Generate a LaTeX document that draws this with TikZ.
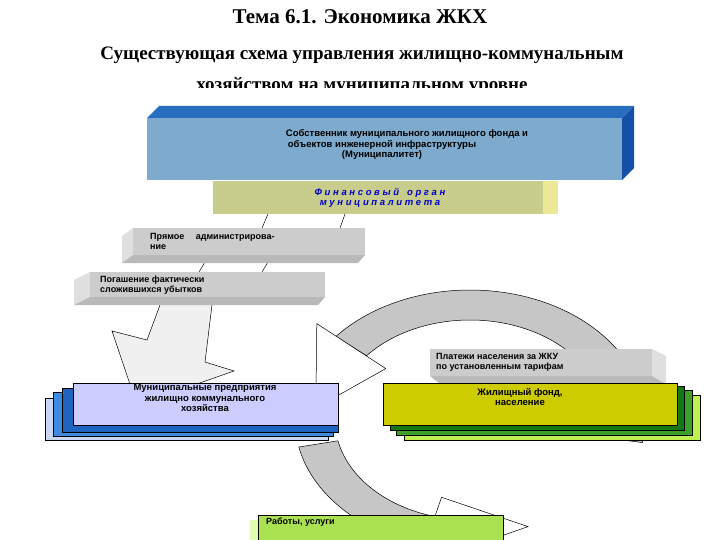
\documentclass[tikz,border=0pt]{standalone}
\usepackage{fontspec}
\setmainfont{Liberation Serif}
\newfontfamily\arial{Liberation Sans}
\definecolor{cOwn}{RGB}{125,170,205}
\definecolor{cOwnTop}{RGB}{40,110,190}
\definecolor{cOwnSide}{RGB}{20,80,170}
\definecolor{cFin}{RGB}{200,205,140}
\definecolor{cFinSide}{RGB}{235,232,150}
\definecolor{cB1}{RGB}{200,215,245}
\definecolor{cB2}{RGB}{60,140,225}
\definecolor{cB3}{RGB}{30,100,190}
\definecolor{cEnt}{RGB}{204,204,255}
\definecolor{cG1}{RGB}{190,240,80}
\definecolor{cG2}{RGB}{60,160,40}
\definecolor{cG3}{RGB}{20,120,20}
\definecolor{cHouse}{RGB}{204,204,0}
\definecolor{cWorkS}{RGB}{225,250,180}
\definecolor{cWork}{RGB}{170,225,80}
\begin{document}
\begin{tikzpicture}[x=1pt,y=-1pt,
  lbl/.style={font=\arial\bfseries\fontsize{9}{10}\selectfont,align=center,inner sep=0pt},
  edge/.style={draw=black,line width=0.5pt}]
\useasboundingbox (0,0) rectangle (720,540);
\fill[white] (0,0) rectangle (720,540);
% titles
\node (t1) at (360,17) {\bfseries\fontsize{21}{24}\selectfont Тема 6.1. Экономика ЖКХ};
\node (t2) at (362,55) {\bfseries\fontsize{19}{22}\selectfont Существующая схема управления жилищно-коммунальным};
\begin{scope}
\clip (0,70) rectangle (720,88);
\node (t3) at (362,86) {\bfseries\fontsize{19}{22}\selectfont хозяйством на муниципальном уровне};
\end{scope}
% ring arrows
\begin{scope}[shift={(470,420)}]
 \fill[gray!45,edge] (10:175 and 130) arc[start angle=10,end angle=-140,x radius=175,y radius=130]
   -- (-140:135 and 100) arc[start angle=-140,end angle=10,x radius=135,y radius=100] -- cycle;
 \fill[white,edge] (-140:200 and 150) -- (-174:155 and 115) -- (-140:110 and 80) -- cycle;
 \fill[gray!45,edge] (168:175 and 130) arc[start angle=168,end angle=105,x radius=175,y radius=130]
   -- (105:135 and 100) arc[start angle=105,end angle=168,x radius=135,y radius=100] -- cycle;
 \fill[white,edge] (105:200 and 150) -- (68:155 and 115) -- (105:110 and 80) -- cycle;
\end{scope}
% big down-left arrow
\fill[gray!12,edge] (160,305) -- (147,340) -- (112,331) -- (137,405) -- (234,371) -- (205,362) -- (212,305);
% top blue box
\fill[cOwnTop] (147,118) -- (159,106) -- (634,106) -- (622,118) -- cycle;
\fill[cOwnSide] (622,118) -- (634,106) -- (634,168) -- (622,180) -- cycle;
\node[fill=cOwn,minimum width=475,minimum height=62,anchor=north west,inner sep=0] (own) at (147,118) {};
\node[lbl,font=\arial\bfseries\fontsize{9.5}{10.5}\selectfont] at (382,145) {\hspace*{50pt}Собственник муниципального жилищного фонда и\\объектов инженерной инфраструктуры\hspace*{110pt}\\(Муниципалитет)};
% yellow box
\fill[cFinSide] (543,181) -- (558,181) -- (558,214) -- (543,214) -- cycle;
\node[fill=cFin,minimum width=330,minimum height=33,anchor=north west,inner sep=0] (fin) at (213,181) {};
\node[lbl,text=blue!80!black,font=\arial\bfseries\itshape\fontsize{9.5}{10.5}\selectfont] at (380,198) {Ф и н а н с о в ы й \ \ о р г а н\\м у н и ц и п а л и т е т а};
% connector bands
\draw[edge] (268,214) -- (262,228) (345,214) -- (340,228);
\draw[edge] (205,262) -- (199,272) (268,262) -- (262,272);
% gray box 1
\fill[gray!25] (122,236) -- (133,228) -- (133,255) -- (122,263) -- cycle;
\fill[gray!55] (122,263) -- (133,255) -- (365,255) -- (358,263) -- cycle;
\node[fill=gray!40,minimum width=232,minimum height=27,anchor=north west,inner sep=0] (adm) at (133,228) {};
\node[lbl,align=left,anchor=west] at (150,241) {Прямое \quad администрирова-\\ние};
% gray box 2
\fill[gray!25] (74,280) -- (90,272) -- (90,297) -- (74,305) -- cycle;
\fill[gray!55] (74,305) -- (90,297) -- (325,297) -- (318,305) -- cycle;
\node[fill=gray!40,minimum width=235,minimum height=25,anchor=north west,inner sep=0] (loss) at (90,272) {};
\node[lbl,align=left,anchor=west] at (100,285) {Погашение фактически\\сложившихся убытков};
% payments box
\fill[gray!25] (652,349) -- (666,356) -- (666,384) -- (652,376) -- cycle;
\fill[gray!55] (430,376) -- (652,376) -- (666,384) -- (440,384) -- cycle;
\node[fill=gray!40,minimum width=222,minimum height=27,anchor=north west,inner sep=0] (pay) at (430,349) {};
\node[lbl,align=left,anchor=west] at (436,362) {Платежи населения за ЖКУ\\по установленным тарифам};
% municipal enterprises stack
\fill[cB1,edge] (45,398) rectangle (328,440);
\fill[cB2,edge] (53,392) rectangle (333,436);
\fill[cB3,edge] (62,388) rectangle (338,432);
\node[fill=cEnt,draw=black,minimum width=265,minimum height=42,anchor=north west,inner sep=0] (ent) at (73,383) {};
\node[lbl,font=\arial\bfseries\fontsize{9.5}{10.5}\selectfont] at (205,398) {Муниципальные предприятия\\жилищно коммунального\\хозяйства};
% housing stack
\fill[cG1,edge] (404,395) rectangle (700,440);
\fill[cG2,edge] (396,390) rectangle (692,435);
\fill[cG3,edge] (390,386) rectangle (684,430);
\node[fill=cHouse,draw=black,minimum width=294,minimum height=42,anchor=north west,inner sep=0] (house) at (383,383) {};
\node[lbl,font=\arial\bfseries\fontsize{9.5}{10.5}\selectfont] at (520,397) {Жилищный фонд,\\население};
% works box
\fill[cWorkS] (250,520) rectangle (260,540);
\node[fill=cWork,draw=black,minimum width=245,minimum height=30,anchor=north west,inner sep=0] (work) at (258,515) {};
\node[lbl,anchor=west] at (266,522) {Работы, услуги};
\end{tikzpicture}
\end{document}
